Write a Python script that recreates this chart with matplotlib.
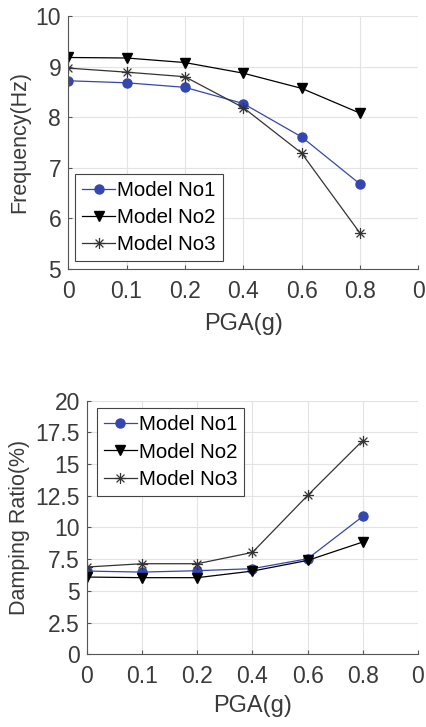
import numpy as np
import matplotlib.pyplot as plt
from matplotlib.path import Path

plt.rcParams['font.family'] = ['Liberation Sans', 'DejaVu Sans']

# x categories (MATLAB style: tick labels reused)
x_pos = [1, 2, 3, 4, 5, 6]
x_ticks = [1, 2, 3, 4, 5, 6, 7]
x_labels = ['0', '0.1', '0.2', '0.4', '0.6', '0.8', '0']

freq_no1 = [8.72, 8.68, 8.59, 8.27, 7.61, 6.68]
freq_no2 = [9.18, 9.17, 9.08, 8.87, 8.57, 8.08]
freq_no3 = [8.97, 8.89, 8.80, 8.19, 7.29, 5.71]

damp_no1 = [6.56, 6.48, 6.59, 6.75, 7.53, 10.87]
damp_no2 = [6.09, 6.04, 6.04, 6.56, 7.40, 8.85]
damp_no3 = [6.88, 7.14, 7.14, 8.03, 12.52, 16.85]

blue = '#3447b0'
dark = '#3a3a3a'
axis_gray = '#555555'

# MATLAB-like asterisk: + and x overlaid
d = 0.7071
asterisk = Path([(-1, 0), (1, 0), (0, -1), (0, 1), (-d, -d), (d, d), (-d, d), (d, -d)],
                [Path.MOVETO, Path.LINETO] * 4)

fig = plt.figure(figsize=(4.26, 7.27), dpi=100)
ax1 = fig.add_axes([0.160, 0.630, 0.822, 0.348])
ax2 = fig.add_axes([0.204, 0.100, 0.777, 0.349])


def style(ax, s1, s2, s3, yticks, ylabels, ylim, ylabel):
    ax.plot(x_pos, s1, color=blue, marker='o', ms=6.5, lw=0.9, label='Model No1')
    ax.plot(x_pos, s2, color='black', marker='v', ms=7, lw=0.9, label='Model No2')
    ax.plot(x_pos, s3, color='#333333', marker=asterisk, ms=8, lw=0.9,
            markeredgewidth=0.9, label='Model No3')
    ax.set_xlim(1, 7)
    ax.set_ylim(*ylim)
    ax.set_xticks(x_ticks)
    ax.set_xticklabels(x_labels)
    ax.set_yticks(yticks)
    ax.set_yticklabels(ylabels)
    ax.grid(True, color='#e3e3e3', lw=0.8)
    ax.set_axisbelow(True)
    for s in ['top', 'right']:
        ax.spines[s].set_visible(False)
    for s in ['left', 'bottom']:
        ax.spines[s].set_color(axis_gray)
        ax.spines[s].set_linewidth(0.8)
    ax.tick_params(direction='in', length=3, width=0.8, color=axis_gray,
                   labelcolor=dark, labelsize=16.5)
    ax.tick_params(axis='x', pad=8)
    ax.tick_params(axis='y', pad=5)
    ax.set_ylabel(ylabel, fontsize=15.5, color=dark, labelpad=4)


style(ax1, freq_no1, freq_no2, freq_no3,
      [5, 6, 7, 8, 9, 10], ['5', '6', '7', '8', '9', '10'], (5, 10), 'Frequency(Hz)')
ax1.set_xlabel('PGA(g)', fontsize=17, color=dark, labelpad=7)
leg1 = ax1.legend(loc='lower left', bbox_to_anchor=(0.02, 0.03), fontsize=14.7,
                  fancybox=False, edgecolor='#444444', framealpha=1,
                  handlelength=1.6, handletextpad=0.1, borderpad=0.35,
                  labelspacing=0.4, borderaxespad=0)
leg1.get_frame().set_linewidth(0.8)

dticks = [0, 2.5, 5, 7.5, 10, 12.5, 15, 17.5, 20]
style(ax2, damp_no1, damp_no2, damp_no3,
      dticks, ['0', '2.5', '5', '7.5', '10', '12.5', '15', '17.5', '20'],
      (0, 20), 'Damping Ratio(%)')
ax2.set_xlabel('PGA(g)', fontsize=17, color=dark, labelpad=5)
leg2 = ax2.legend(loc='upper left', bbox_to_anchor=(0.03, 0.97), fontsize=14.7,
                  fancybox=False, edgecolor='#444444', framealpha=1,
                  handlelength=1.6, handletextpad=0.1, borderpad=0.35,
                  labelspacing=0.4, borderaxespad=0)
leg2.get_frame().set_linewidth(0.8)

fig.savefig('out.png', dpi=100)
